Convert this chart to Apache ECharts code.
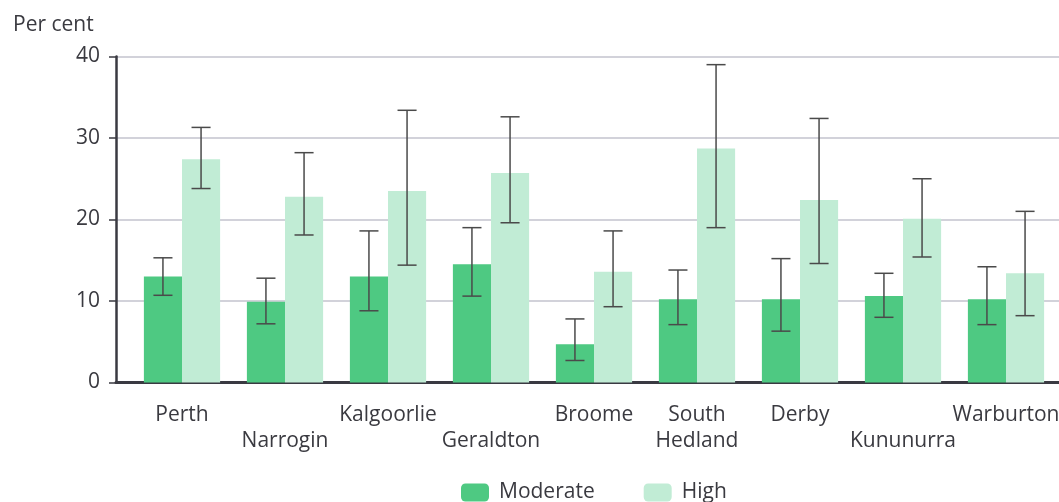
<!DOCTYPE html>
<html><head><meta charset="utf-8">
<script src="https://cdn.jsdelivr.net/npm/echarts@6/dist/echarts.min.js"></script>
<style>html,body{margin:0;padding:0;background:#fff}#c{width:1059px;height:502px}</style>
</head><body><div id="c"></div>
<script>
const categories = ['Perth','Narrogin','Kalgoorlie','Geraldton','Broome','South Hedland','Derby','Kununurra','Warburton'];
const tickLabels = ['Perth','\nNarrogin','Kalgoorlie','\nGeraldton','Broome','South\nHedland','Derby','\nKununurra','Warburton'];
const moderate = [13.0, 9.9, 13.0, 14.5, 4.7, 10.2, 10.2, 10.6, 10.2];
const moderateLow = [10.7, 7.2, 8.8, 10.6, 2.7, 7.1, 6.3, 8.0, 7.1];
const moderateHigh = [15.3, 12.8, 18.6, 19.0, 7.8, 13.8, 15.2, 13.4, 14.2];
const high = [27.4, 22.8, 23.5, 25.7, 13.6, 28.7, 22.4, 20.1, 13.4];
const highLow = [23.8, 18.1, 14.4, 19.6, 9.3, 19.0, 14.6, 15.4, 8.2];
const highHigh = [31.3, 28.2, 33.4, 32.6, 18.6, 39.0, 32.4, 25.0, 21.0];
const yTicks = [0, 10, 20, 30, 40];

const FONT = 'Open Sans';
const FS = 21;
const TXT = '#3a3a40';
const GAP = 0.26;

function errorSeries(name, lows, highs, side) {
  return {
    type: 'custom', name: name + ' error', xAxisIndex: 1, yAxisIndex: 1, z: 10,
    silent: true,
    data: categories.map((c, i) => [i, lows[i], highs[i]]),
    renderItem: function (params, api) {
      const band = api.size([1, 0])[0];
      const barW = band * (1 - GAP) / 2;
      const lo = api.coord([api.value(0), api.value(1)]);
      const hi = api.coord([api.value(0), api.value(2)]);
      const x = lo[0] + side * barW / 2;
      const cap = barW * 0.5;
      const style = { stroke: '#4a4a4a', lineWidth: 1.5 };
      return { type: 'group', children: [
        { type: 'line', shape: { x1: x, y1: lo[1], x2: x, y2: hi[1] }, style: style },
        { type: 'line', shape: { x1: x - cap / 2, y1: lo[1], x2: x + cap / 2, y2: lo[1] }, style: style },
        { type: 'line', shape: { x1: x - cap / 2, y1: hi[1], x2: x + cap / 2, y2: hi[1] }, style: style }
      ]};
    }
  };
}

const chart = echarts.init(document.getElementById('c'), null, { renderer: 'canvas' });
chart.setOption({
  animation: false,
  textStyle: { fontFamily: FONT },
  grid: [
    { left: 116, right: 0, top: 56.5, bottom: 119.5, containLabel: false, outerBoundsMode: 'none' },
    { left: 130.5, right: 1.5, top: 56.5, bottom: 119.5, containLabel: false, outerBoundsMode: 'none' }
  ],
  title: { text: 'Per cent', left: 8, top: 10, textStyle: { fontFamily: FONT, fontSize: FS, fontWeight: 'normal', color: TXT } },
  legend: {
    top: 477, left: 456, itemWidth: 28, itemHeight: 18, itemGap: 49,
    data: ['Moderate', 'High'],
    textStyle: { fontFamily: FONT, fontSize: FS, color: TXT, padding: [0, 0, 0, 5] }
  },
  xAxis: [
    { type: 'category', gridIndex: 0, data: categories, axisLine: { show: true, lineStyle: { color: '#3a3a42', width: 3 } },
      axisTick: { show: false }, axisLabel: { show: false } },
    { type: 'category', gridIndex: 1, data: categories, axisLine: { show: false }, axisTick: { show: false },
      axisLabel: { interval: 0, fontFamily: FONT, fontSize: FS, color: TXT, lineHeight: 26, margin: 20,
        formatter: function (v, i) { return tickLabels[i]; } } }
  ],
  yAxis: [
    { type: 'value', gridIndex: 0, min: yTicks[0], max: yTicks[yTicks.length - 1], interval: 10,
      axisLine: { show: true, lineStyle: { color: '#3a3a42', width: 2.5 } },
      axisTick: { show: true, length: 7, lineStyle: { color: '#3a3a42', width: 1.5 } },
      splitLine: { show: true, lineStyle: { color: '#d2d2da', width: 2 } },
      axisLabel: { fontFamily: FONT, fontSize: FS, color: TXT, margin: 16 } },
    { type: 'value', gridIndex: 1, min: 0, max: 40, interval: 10, show: false, splitLine: { show: false } }
  ],
  series: [
    { type: 'bar', name: 'Moderate', xAxisIndex: 1, yAxisIndex: 1, data: moderate, barGap: '0%', barCategoryGap: (GAP * 100) + '%',
      itemStyle: { color: '#4ec982' } },
    { type: 'bar', name: 'High', xAxisIndex: 1, yAxisIndex: 1, data: high, barGap: '0%', barCategoryGap: (GAP * 100) + '%',
      itemStyle: { color: '#c1ecd5' } },
    errorSeries('Moderate', moderateLow, moderateHigh, -1),
    errorSeries('High', highLow, highHigh, 1)
  ]
});
</script></body></html>
